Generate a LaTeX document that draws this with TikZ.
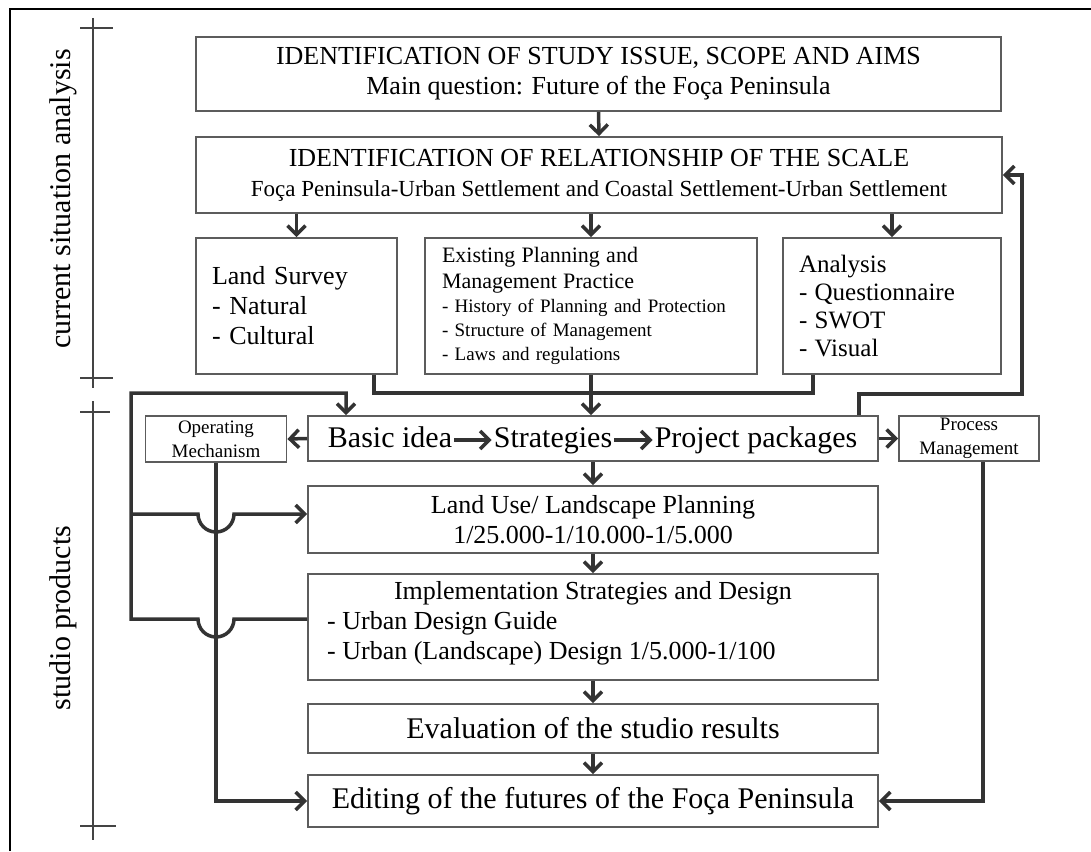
\documentclass[tikz,border=0pt]{standalone}
\usepackage{fontspec}
\setmainfont{Liberation Serif}
\usetikzlibrary{arrows.meta}

\definecolor{boxgray}{HTML}{5C5C5C}
\definecolor{linkgray}{HTML}{333333}
\definecolor{bargray}{HTML}{444444}

\newcommand\ftitle{\fontsize{26}{30}\selectfont}
\newcommand\fsub{\fontsize{23}{31}\selectfont}
\newcommand\fmid{\fontsize{22}{26}\selectfont}
\newcommand\fsmall{\fontsize{19}{24}\selectfont}
\newcommand\flarge{\fontsize{30}{34}\selectfont}

\tikzset{
  box/.style={draw=boxgray, line width=1.8pt, inner sep=0pt, align=center},
  link/.style={draw=linkgray, line width=3.5pt},
  bar/.style={draw=bargray, line width=2pt},
  step text/.style={inner sep=2pt, font=\flarge, text height=21pt, text depth=7pt},
}

\begin{document}
\begin{tikzpicture}[x=1pt,y=-1pt,>={Straight Barb[length=9pt,width=18pt]}]
                    \useasboundingbox (0,0) rectangle (1091,851);
                    % Frame
                    \draw[line width=2pt] (10,851) -- (10,9) -- (1091,9);
                    % Phase bars
                    \draw[bar] (93,18) -- (93,388);
                    \draw[bar] (80,28) -- (113,28);
                    \draw[bar] (80,378) -- (113,378);
                    \draw[bar] (93,401) -- (93,840);
                    \draw[bar] (80,412) -- (110,412);
                    \draw[bar] (80,826) -- (116,826);
                    \node[rotate=90,font=\flarge] (P1) at (63,199) {current situation analysis};
                    \node[rotate=90,font=\flarge] (P2) at (63,618) {studio products};
                    % Current situation analysis
                    \node[box,font=\ftitle,minimum width=805pt,minimum height=74pt] (S1) at (598.5,74)
                        {IDENTIFICATION OF STUDY ISSUE, SCOPE AND AIMS\\Main question: Future of the Foça Peninsula};
                    \node[box,font=\ftitle,minimum width=806pt,minimum height=76pt] (S2) at (599,175)
                        {IDENTIFICATION OF RELATIONSHIP OF THE SCALE\\\fsub Foça Peninsula-Urban Settlement and Coastal Settlement-Urban Settlement};
                    \node[box,font=\ftitle,align=left,text width=169pt,inner xsep=16pt,minimum height=136pt] (L1) at (296.5,306)
                        {Land Survey\\- Natural\\- Cultural};
                    \node[box,font=\fsmall,align=left,text width=298pt,inner xsep=17pt,minimum height=136pt] (L2) at (591,306)
                        {\fmid Existing Planning and\\\fmid Management Practice\\\fsmall - History of Planning and Protection\\\fsmall - Structure of Management\\\fsmall - Laws and regulations};
                    \node[box,font=\fontsize{22}{28}\selectfont,align=left,text width=186pt,inner xsep=16pt,minimum height=136pt] (L3) at (892,306)
                        {\fontsize{25}{28}\selectfont Analysis\\- Questionnaire\\- SWOT\\- Visual};
                    % Studio products
                    \node[box,minimum width=570pt,minimum height=45pt] (B) at (593,438.5) {};
                    \node[step text] (B1) at (390,440) {Basic idea};
                    \node[step text] (B2) at (553,440) {Strategies};
                    \node[step text] (B3) at (756,440) {Project packages};
                    \node[box,font=\fsmall,minimum width=141pt,minimum height=46pt] (OM) at (216,439) {Operating\\Mechanism};
                    \node[box,font=\fsmall,minimum width=140pt,minimum height=45pt] (PM) at (969,438.5) {Process\\Management};
                    \node[box,font=\ftitle,minimum width=570pt,minimum height=67pt] (C1) at (593,519.5)
                        {Land Use/ Landscape Planning\\1/25.000-1/10.000-1/5.000};
                    \node[box,minimum width=570pt,minimum height=106pt] (C2) at (593,627) {};
                    \node[font=\ftitle] (C2T) at (593,593) {Implementation Strategies and Design};
                    \node[font=\ftitle,anchor=west,align=left,inner sep=0pt] (C2L) at (327,638)
                        {- Urban Design Guide\\- Urban (Landscape) Design 1/5.000-1/100};
                    \node[box,font=\flarge,minimum width=570pt,minimum height=49pt] (C3) at (593,728.5) {Evaluation of the studio results};
                    \node[box,font=\flarge,minimum width=570pt,minimum height=52pt] (C4) at (593,801) {Editing of the futures of the Foça Peninsula};
                    % Bends
                    \coordinate (MR) at (813,393);
                    \coordinate (FB) at (1022,394);
                    \coordinate (LT) at (346,393);
                    \coordinate (LM) at (131,514);
                    \coordinate (LB) at (131,619);
                    \coordinate (HM) at (216,514);
                    \coordinate (HB) at (216,619);
                    % Links
                    \draw[link,->] (S1.south) -- (S2.north);
                    \draw[link,->] (L1.north |- S2.south) -- (L1.north);
                    \draw[link,->] (L2.north |- S2.south) -- (L2.north);
                    \draw[link,->] (L3.north |- S2.south) -- (L3.north);
                    \draw[link] ([xshift=-24pt]L1.south east) |- (MR) -- (MR |- L3.south);
                    \draw[link,->] (L2.south) -- (L2.south |- B.north);
                    \draw[link,->] (B1) -- (B2);
                    \draw[link,->] (B2) -- (B3);
                    \draw[link,->] (B.west) -- (OM.east);
                    \draw[link,->] (B.east) -- (PM.west);
                    \draw[link,->] ([xshift=-20pt]B.north east) |- (FB) |- (S2.east);
                    \draw[link,->] (B.south) -- (C1.north);
                    \draw[link,->] (C1.south) -- (C2.north);
                    \draw[link,->] (C2.south) -- (C3.north);
                    \draw[link,->] (C3.south) -- (C4.north);
                    \draw[link,->] (OM.south) |- (C4.west);
                    \draw[link,->] ([xshift=14pt]PM.south) |- (C4.east);
                    \draw[link,->] (C2.west |- LB) -- ([xshift=18pt]HB) arc (0:180:18) -- (LB) |- (LT) -- (LT |- B.north);
                    \draw[link,->] (LM) -- ([xshift=-18pt]HM) arc (180:0:18) -- (C1.west |- LM);
                \end{tikzpicture}
\end{document}
